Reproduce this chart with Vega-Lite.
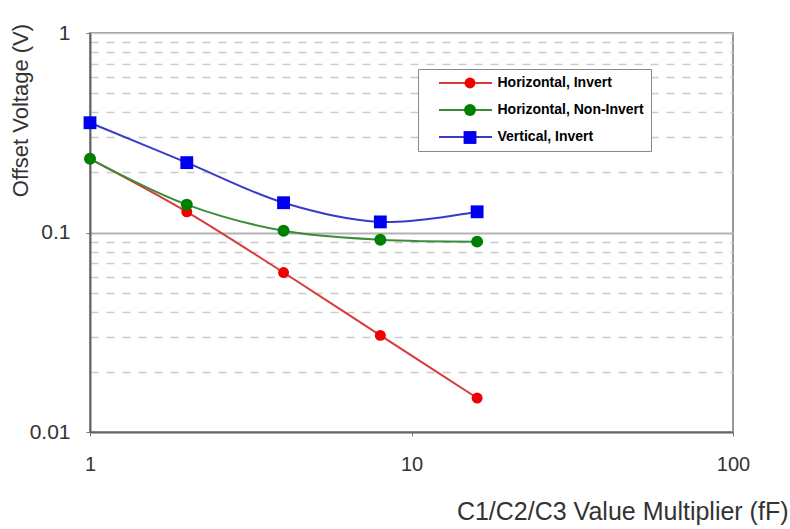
{
  "$schema": "https://vega.github.io/schema/vega-lite/v6.json",
  "width": 643,
  "height": 399,
  "autosize": {"type": "none"},
  "padding": {"left": 90, "top": 33, "right": 57, "bottom": 97},
  "background": "white",
  "config": {
    "view": {"stroke": "#9a9a9a", "strokeWidth": 2},
    "font": "Liberation Sans"
  },
  "data": {
    "values": [
      {"series": "Horizontal, Invert", "x": 1, "y": 0.234},
      {"series": "Horizontal, Invert", "x": 2, "y": 0.127},
      {"series": "Horizontal, Invert", "x": 4, "y": 0.063},
      {"series": "Horizontal, Invert", "x": 8, "y": 0.0305},
      {"series": "Horizontal, Invert", "x": 16, "y": 0.0148},
      {"series": "Horizontal, Non-Invert", "x": 1, "y": 0.234},
      {"series": "Horizontal, Non-Invert", "x": 2, "y": 0.138},
      {"series": "Horizontal, Non-Invert", "x": 4, "y": 0.102},
      {"series": "Horizontal, Non-Invert", "x": 8, "y": 0.092},
      {"series": "Horizontal, Non-Invert", "x": 16, "y": 0.09},
      {"series": "Vertical, Invert", "x": 1, "y": 0.355},
      {"series": "Vertical, Invert", "x": 2, "y": 0.224},
      {"series": "Vertical, Invert", "x": 4, "y": 0.141},
      {"series": "Vertical, Invert", "x": 8, "y": 0.113},
      {"series": "Vertical, Invert", "x": 16, "y": 0.127}
    ]
  },
  "encoding": {
    "x": {
      "field": "x",
      "type": "quantitative",
      "scale": {"type": "log", "domain": [1, 100]},
      "axis": {
        "title": "C1/C2/C3 Value Multiplier (fF)",
        "values": [1, 10, 100],
        "labelExpr": "format(datum.value, 'd')",
        "grid": false,
        "labelFlush": false,
        "labelOverlap": false,
        "tickSize": 4,
        "tickColor": "#777777",
        "labelPadding": 18,
        "labelFontSize": 20,
        "labelColor": "#333333",
        "domainColor": "#666666",
        "domainWidth": 2,
        "titleFontSize": 25,
        "titleFontWeight": "normal",
        "titleColor": "#333333",
        "titleX": 698,
        "titleY": 87,
        "titleAlign": "right",
        "titleBaseline": "alphabetic"
      }
    },
    "y": {
      "field": "y",
      "type": "quantitative",
      "scale": {"type": "log", "domain": [0.01, 1]},
      "axis": {
        "title": "Offset Voltage (V)",
        "values": [0.01, 0.02, 0.03, 0.04, 0.05, 0.06, 0.07, 0.08, 0.09, 0.1, 0.2, 0.3, 0.4, 0.5, 0.6, 0.7, 0.8, 0.9, 1],
        "labelExpr": "datum.value == 1 ? '1' : datum.value == 0.1 ? '0.1' : datum.value == 0.01 ? '0.01' : ''",
        "labelOverlap": false,
        "labelFlush": false,
        "grid": true,
        "gridColor": {"condition": {"test": "datum.value == 0.1", "value": "#b4b4b4"}, "value": "#cbcbcb"},
        "gridDash": {"condition": {"test": "datum.value == 0.1 || datum.value == 1 || datum.value == 0.01", "value": []}, "value": [8, 8]},
        "gridWidth": {"condition": {"test": "datum.value == 0.1", "value": 2}, "value": 1.5},
        "tickOpacity": {"condition": {"test": "datum.value == 0.1 || datum.value == 1 || datum.value == 0.01", "value": 1}, "value": 0},
        "tickSize": 4,
        "tickColor": "#777777",
        "labelPadding": 16,
        "labelFontSize": 21,
        "labelColor": "#333333",
        "domainColor": "#666666",
        "domainWidth": 2,
        "titleFontSize": 22,
        "titleFontWeight": "normal",
        "titleColor": "#333333",
        "titleX": -70,
        "titleY": 77,
        "titleAngle": -90,
        "titleAlign": "center",
        "titleBaseline": "middle"
      }
    }
  },
  "layer": [
    {
      "mark": {"type": "line", "interpolate": "catmull-rom", "strokeWidth": 2},
      "encoding": {
        "stroke": {
          "field": "series",
          "type": "nominal",
          "scale": {
            "range": ["#d83a3a", "#3a8c3a", "#3a3ac8"]
          },
          "legend": {
            "title": null,
            "orient": "none",
            "legendX": 328,
            "legendY": 36,
            "padding": 7,
            "symbolType": "M-5.3,0H5.3",
            "symbolSize": 100,
            "symbolStrokeWidth": 2,
            "symbolOffset": 33.5,
            "labelOffset": 25,
            "labelFont": "Liberation Sans",
            "labelFontSize": 14,
            "labelFontWeight": "bold",
            "labelColor": "black",
            "labelLimit": 300,
            "rowPadding": 13,
            "strokeColor": "#888888",
            "fillColor": "white",
            "zindex": 0
          }
        }
      }
    },
    {
      "mark": {"type": "point", "filled": true, "opacity": 1},
      "encoding": {
        "color": {
          "field": "series",
          "type": "nominal",
          "scale": {
            "domain": ["Horizontal, Invert", "Horizontal, Non-Invert", "Vertical, Invert"],
            "range": ["#f00000", "#008000", "#0000f0"]
          },
          "legend": {
            "title": null,
            "orient": "none",
            "legendX": 328,
            "legendY": 36,
            "padding": 7,
            "symbolSize": 64,
            "symbolOffset": 37.5,
            "labelExpr": "''",
            "labelFont": "Liberation Sans",
            "labelFontSize": 14,
            "labelFontWeight": "bold",
            "labelLimit": 300,
            "rowPadding": 13,
            "zindex": 1
          }
        },
        "shape": {
          "field": "series",
          "type": "nominal",
          "scale": {
            "domain": ["Horizontal, Invert", "Horizontal, Non-Invert", "Vertical, Invert"],
            "range": ["circle", "circle", "square"]
          },
          "legend": {
            "title": null,
            "orient": "none",
            "legendX": 328,
            "legendY": 36,
            "padding": 7,
            "symbolSize": 64,
            "symbolOffset": 37.5,
            "labelExpr": "''",
            "labelFont": "Liberation Sans",
            "labelFontSize": 14,
            "labelFontWeight": "bold",
            "labelLimit": 300,
            "rowPadding": 13,
            "zindex": 1
          }
        },
        "size": {
          "field": "series",
          "type": "ordinal",
          "scale": {
            "domain": ["Horizontal, Invert", "Horizontal, Non-Invert", "Vertical, Invert"],
            "range": [120, 165, 110]
          },
          "legend": null
        }
      }
    }
  ]
}
